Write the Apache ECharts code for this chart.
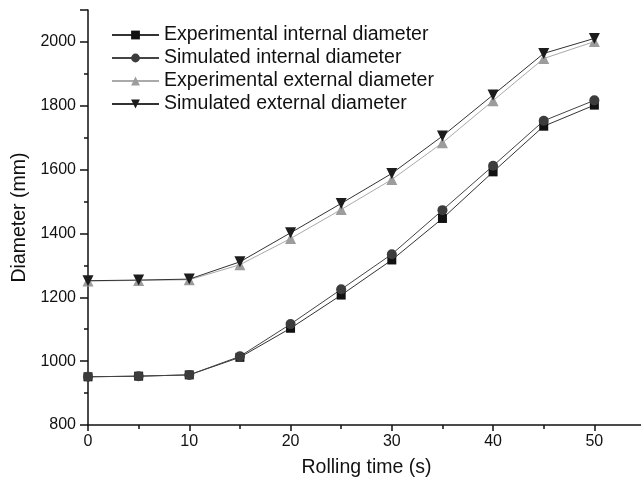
<!DOCTYPE html>
<html>
<head>
<meta charset="utf-8">
<script src="https://cdn.jsdelivr.net/npm/echarts@6/dist/echarts.min.js"></script>
<style>
  html, body { margin: 0; padding: 0; background: #fff; }
  #chart { width: 641px; height: 480px; }
</style>
</head>
<body>
<div id="chart"></div>
<script>
// rolling time (s)
const times = [0, 5, 10, 15, 20, 25, 30, 35, 40, 45, 50]

const expInternal = [951, 953, 957, 1012, 1103, 1207, 1317, 1447, 1593, 1736, 1802]
const simInternal = [951, 953, 957, 1015, 1116, 1225, 1335, 1473, 1612, 1753, 1817]
const expExternal = [1251, 1253, 1255, 1302, 1384, 1475, 1569, 1684, 1816, 1948, 2001]
const simExternal = [1252, 1254, 1257, 1311, 1402, 1494, 1588, 1705, 1834, 1964, 2011]

const seriesNames = [
  'Experimental internal diameter',
  'Simulated internal diameter',
  'Experimental external diameter',
  'Simulated external diameter'
]

const font = 'Liberation Sans, Arial, sans-serif'

function pairs(vals) {
  return times.map((t, i) => [t, vals[i]])
}

function makeSeries(name, vals, color, lineColor, symbol, size, rotate) {
  return {
    name: name,
    type: 'line',
    data: pairs(vals),
    symbol: symbol,
    symbolSize: size,
    symbolRotate: rotate || 0,
    showAllSymbol: true,
    itemStyle: { color: color },
    lineStyle: { color: lineColor, width: 1 },
    emphasis: { disabled: true },
    z: 2
  }
}

const chart = echarts.init(document.getElementById('chart'))

chart.setOption({
  animation: false,
  backgroundColor: '#fff',
  grid: {
    left: 88,
    right: -4,
    top: 10,
    bottom: 55,
    containLabel: false,
    outerBoundsMode: 'none'
  },
  legend: {
    orient: 'vertical',
    left: 106,
    top: 20,
    itemWidth: 47,
    itemHeight: 11,
    itemGap: 3,
    textStyle: { fontFamily: font, fontSize: 19.5, color: '#111' },
    data: seriesNames
  },
  xAxis: {
    type: 'value',
    min: 0,
    max: 55,
    interval: 10,
    name: 'Rolling time (s)',
    nameLocation: 'middle',
    nameGap: 33,
    nameTextStyle: { fontFamily: font, fontSize: 19.5, color: '#111' },
    axisLine: { show: true, onZero: false, lineStyle: { color: '#111', width: 1.5 } },
    axisTick: { show: true, length: 6, lineStyle: { color: '#111', width: 1.5 } },
    minorTick: { show: true, splitNumber: 2, length: 4, lineStyle: { color: '#111', width: 1.5 } },
    axisLabel: { fontFamily: font, fontSize: 16, color: '#111', margin: 9, showMaxLabel: false },
    splitLine: { show: false }
  },
  yAxis: {
    type: 'value',
    min: 800,
    max: 2100,
    interval: 200,
    name: 'Diameter (mm)',
    nameLocation: 'middle',
    nameGap: 58,
    nameTextStyle: { fontFamily: font, fontSize: 19.5, color: '#111' },
    axisLine: { show: true, onZero: false, lineStyle: { color: '#111', width: 1.5 } },
    axisTick: { show: true, length: 8, lineStyle: { color: '#111', width: 1.5 } },
    minorTick: { show: true, splitNumber: 2, length: 4, lineStyle: { color: '#111', width: 1.5 } },
    axisLabel: {
      fontFamily: font,
      fontSize: 16,
      color: '#111',
      margin: 12,
      showMaxLabel: false,
      formatter: v => String(v)
    },
    splitLine: { show: false }
  },
  series: [
    makeSeries(seriesNames[0], expInternal, '#111', '#333', 'rect', 9),
    makeSeries(seriesNames[1], simInternal, '#3c3c3c', '#444', 'circle', 10),
    makeSeries(seriesNames[2], expExternal, '#9c9c9c', '#aaa', 'triangle', 11),
    makeSeries(seriesNames[3], simExternal, '#1c1c1c', '#333', 'triangle', 11, 180)
  ]
})
</script>
</body>
</html>
